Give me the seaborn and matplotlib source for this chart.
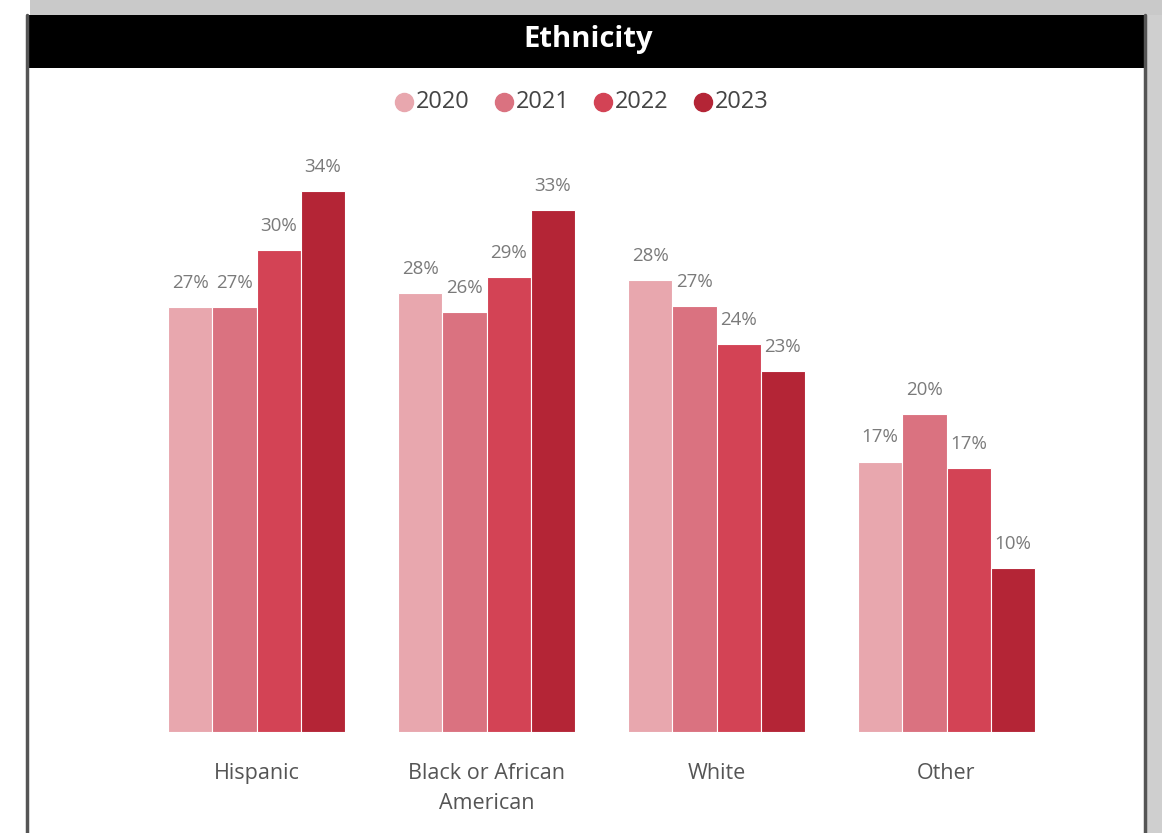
import matplotlib
matplotlib.use("Agg")
import matplotlib.pyplot as plt
from matplotlib.patches import Rectangle
from matplotlib.lines import Line2D
import pandas as pd
import seaborn as sns

# --------------------------------------------------------------------------- #
# Data
# --------------------------------------------------------------------------- #
categories = ["Hispanic", "Black or African\nAmerican", "White", "Other"]
years = ["2020", "2021", "2022", "2023"]
share_2020 = [26.7, 27.6, 28.4, 17.0]
share_2021 = [26.7, 26.4, 26.8, 20.0]
share_2022 = [30.3, 28.6, 24.4, 16.6]
share_2023 = [34.0, 32.8, 22.7, 10.3]
colors = ["#E8A7AE", "#DA7280", "#D34355", "#B42536"]

df = pd.DataFrame({
    "ethnicity": categories * 4,
    "year": [y for y in years for _ in categories],
    "share": share_2020 + share_2021 + share_2022 + share_2023,
})

sns.set_theme(style="white")
plt.rcParams["font.family"] = ["Open Sans", "DejaVu Sans"]

W, H = 1162, 833
fig = plt.figure(figsize=(W / 100, H / 100), dpi=100)
fig.patch.set_facecolor("white")


def fx(px):
    return px / W


def fy(py):
    return 1 - py / H


# panel frame: shadow, borders, black title bar
fig.add_artist(Rectangle((fx(30), fy(15)), fx(1132), 15 / H, transform=fig.transFigure,
                         facecolor="#c9c9c9", edgecolor="none", zorder=0))
fig.add_artist(Rectangle((fx(1146), 0), fx(16), fy(15), transform=fig.transFigure,
                         facecolor="#cfcfcf", edgecolor="none", zorder=0))
fig.add_artist(Rectangle((fx(28), fy(68)), fx(1117), 53 / H, transform=fig.transFigure,
                         facecolor="black", edgecolor="none", zorder=1))
fig.add_artist(Line2D([fx(26.5), fx(26.5)], [0, fy(15)], transform=fig.transFigure,
                      color="#555555", lw=2.5, zorder=2))
fig.add_artist(Line2D([fx(1144.5), fx(1144.5)], [0, fy(15)], transform=fig.transFigure,
                      color="#555555", lw=2.5, zorder=2))
fig.text(fx(588), fy(40), "Ethnicity", color="white", fontsize=21, fontweight="bold",
         ha="center", va="center")

# legend row
for i, (yr, c) in enumerate(zip(years, colors)):
    x0 = 404 + i * 99.5
    fig.add_artist(Line2D([fx(x0)], [fy(102)], marker="o", markersize=13, color=c,
                          transform=fig.transFigure, linestyle="none"))
    fig.text(fx(x0 + 12), fy(102), yr, color="#444444", fontsize=17, ha="left", va="center")

# --------------------------------------------------------------------------- #
# Bars
# --------------------------------------------------------------------------- #
ax = fig.add_axes([fx(141.5), 1 - 732 / H, fx(920), 636 / H])
sns.barplot(data=df, x="ethnicity", y="share", hue="year", hue_order=years,
            palette=colors, width=0.77, edgecolor="white", linewidth=0.8,
            saturation=1, legend=False, ax=ax)
ax.set_xlim(-0.5, 3.5)
ax.set_ylim(0, 40)
ax.set_facecolor("none")
for c in ax.containers:
    ax.bar_label(c, labels=[f"{v:.0f}%" for v in c.datavalues], padding=11,
                 fontsize=13.5, color="#7a7a7a")
ax.set_xlabel("")
ax.set_ylabel("")
ax.set_yticks([])
ax.tick_params(axis="x", length=0, pad=22, labelsize=15.5, labelcolor="#555555")
for lbl in ax.get_xticklabels():
    lbl.set_linespacing(1.6)
sns.despine(ax=ax, left=True, bottom=True)

fig.savefig("out.png", dpi=100)
